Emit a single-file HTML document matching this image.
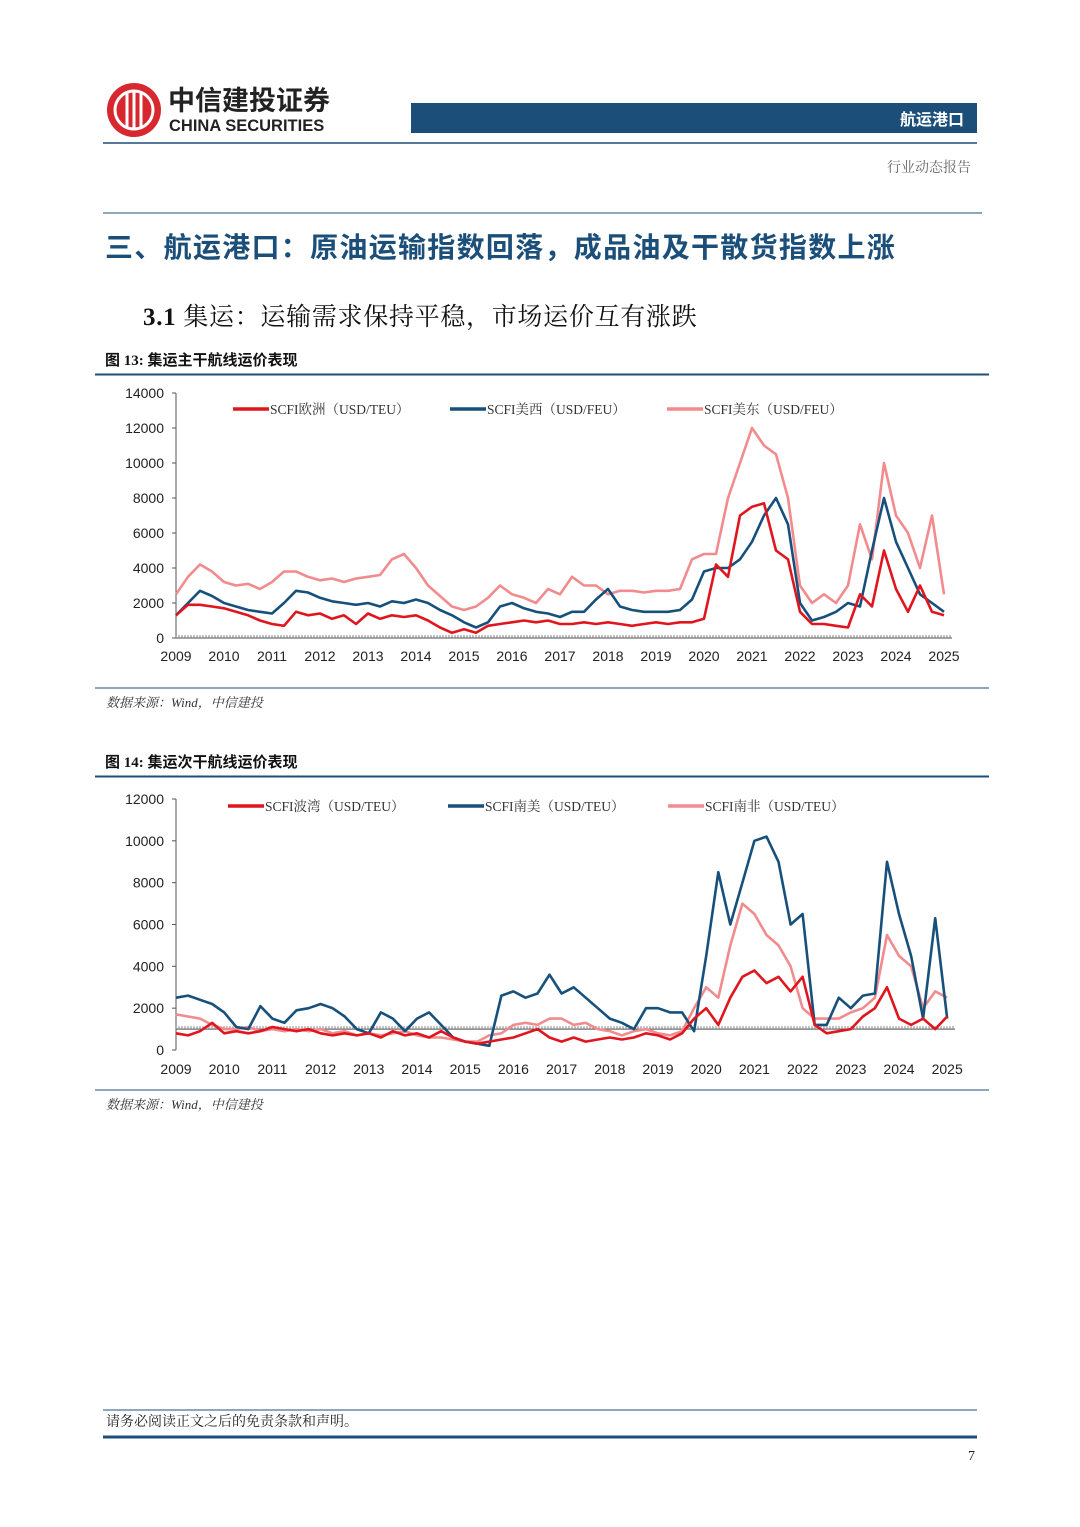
<!DOCTYPE html>
<html><head><meta charset="utf-8">
<style>
html,body{margin:0;padding:0;background:#fff;}
body{width:1080px;height:1527px;position:relative;overflow:hidden;font-family:"Liberation Sans","Noto Sans CJK SC",sans-serif;}
svg{position:absolute;left:0;top:0;}
</style></head>
<body>
<svg id="page" width="1080" height="1527" viewBox="0 0 1080 1527">
  <g>
    <circle cx="134" cy="110" r="27" fill="#d7282f"/>
    <g stroke="#fff" stroke-width="3" fill="none">
      <circle cx="134" cy="110" r="19"/>
      <line x1="127" y1="93" x2="127" y2="127"/><line x1="134" y1="91" x2="134" y2="129"/><line x1="141" y1="93" x2="141" y2="127"/>
    </g>
    <text x="168" y="110" font-size="27" font-weight="bold" fill="#222" font-family="'Noto Sans CJK SC',sans-serif">中信建投证券</text>
    <text x="169" y="131" font-size="16.5" font-weight="bold" fill="#222">CHINA SECURITIES</text>
  </g>
  <rect x="411" y="103" width="566" height="30" fill="#1b4f7a"/>
  <text x="964" y="125" font-size="16" font-weight="bold" fill="#fff" text-anchor="end" font-family="'Noto Sans CJK SC',sans-serif">航运港口</text>
  <line x1="103" y1="143" x2="977" y2="143" stroke="#1b4f7a" stroke-width="1.5"/>
  <text x="971" y="172" font-size="14" fill="#666" text-anchor="end" font-family="'Noto Serif CJK SC',serif">行业动态报告</text>
  <line x1="103" y1="213" x2="982" y2="213" stroke="#1b4f7a" stroke-width="1"/>
  <text x="105" y="257" font-size="28" letter-spacing="1.3" font-weight="bold" fill="#1b4f7a" font-family="'Noto Sans CJK SC',sans-serif">三、航运港口：原油运输指数回落，成品油及干散货指数上涨</text>
  <text x="143" y="325" font-size="25" letter-spacing="0.7" fill="#111" font-family="'Liberation Serif','Noto Serif CJK SC',serif"><tspan font-weight="bold">3.1 </tspan>集运：运输需求保持平稳，市场运价互有涨跌</text>

  <text x="105" y="365" font-size="15" font-weight="bold" fill="#111" font-family="'Liberation Serif','Noto Sans CJK SC',serif">图 13: 集运主干航线运价表现</text>
  <line x1="95" y1="374.5" x2="989" y2="374.5" stroke="#1b4f7a" stroke-width="2"/>
  <g id="chart1"></g>
  <line x1="95" y1="688" x2="989" y2="688" stroke="#1b4f7a" stroke-width="1"/>
  <text x="106" y="707" font-size="13" font-style="italic" fill="#333" font-family="'Liberation Serif','Noto Serif CJK SC',serif">数据来源：Wind，中信建投</text>

  <text x="105" y="767" font-size="15" font-weight="bold" fill="#111" font-family="'Liberation Serif','Noto Sans CJK SC',serif">图 14: 集运次干航线运价表现</text>
  <line x1="95" y1="776.5" x2="989" y2="776.5" stroke="#1b4f7a" stroke-width="2"/>
  <g id="chart2"></g>
  <line x1="95" y1="1090" x2="989" y2="1090" stroke="#1b4f7a" stroke-width="1"/>
  <text x="106" y="1109" font-size="13" font-style="italic" fill="#333" font-family="'Liberation Serif','Noto Serif CJK SC',serif">数据来源：Wind，中信建投</text>

  <line x1="103" y1="1410" x2="977" y2="1410" stroke="#1b4f7a" stroke-width="1"/>
  <text x="106" y="1426" font-size="14" fill="#222" font-family="'Noto Serif CJK SC',serif">请务必阅读正文之后的免责条款和声明。</text>
  <line x1="103" y1="1437" x2="977" y2="1437" stroke="#1b4f7a" stroke-width="3"/>
  <text x="975" y="1460" font-size="14" fill="#222" text-anchor="end" font-family="'Liberation Serif',serif">7</text>
</svg>
<script>
const yearLabels = ["2009","2010","2011","2012","2013","2014","2015","2016","2017","2018","2019","2020","2021","2022","2023","2024","2025"];
const ticks1 = [0,2000,4000,6000,8000,10000,12000,14000];
const ticks2 = [0,2000,4000,6000,8000,10000,12000];
const seriesNames1 = ["SCFI欧洲（USD/TEU）","SCFI美西（USD/FEU）","SCFI美东（USD/FEU）"];
const seriesNames2 = ["SCFI波湾（USD/TEU）","SCFI南美（USD/TEU）","SCFI南非（USD/TEU）"];
// quarterly readings, 2009Q1 onward
const europe = [1300,1900,1900,1800,1700,1500,1300,1000,800,700,1500,1300,1400,1100,1300,800,1400,1100,1300,1200,1300,1000,600,300,500,300,700,800,900,1000,900,1000,800,800,900,800,900,800,700,800,900,800,900,900,1100,4200,3500,7000,7500,7700,5000,4500,1500,800,800,700,600,2500,1800,5000,2800,1500,3000,1500,1300];
const usWest = [1300,2000,2700,2400,2000,1800,1600,1500,1400,2000,2700,2600,2300,2100,2000,1900,2000,1800,2100,2000,2200,2000,1600,1300,900,600,900,1800,2000,1700,1500,1400,1200,1500,1500,2200,2800,1800,1600,1500,1500,1500,1600,2200,3800,4000,4000,4500,5500,7000,8000,6500,2000,1000,1200,1500,2000,1800,5000,8000,5500,4000,2500,2000,1500];
const usEast = [2500,3500,4200,3800,3200,3000,3100,2800,3200,3800,3800,3500,3300,3400,3200,3400,3500,3600,4500,4800,4000,3000,2400,1800,1600,1800,2300,3000,2500,2300,2000,2800,2500,3500,3000,3000,2500,2700,2700,2600,2700,2700,2800,4500,4800,4800,8000,10000,12000,11000,10500,8000,3000,2000,2500,2000,3000,6500,4500,10000,7000,6000,4000,7000,2500];
const gulf = [800,700,900,1300,800,900,800,900,1100,1000,900,1000,800,700,800,700,800,600,900,700,800,600,900,600,400,300,400,500,600,800,1000,600,400,600,400,500,600,500,600,800,700,500,800,1500,2000,1200,2500,3500,3800,3200,3500,2800,3500,1200,800,900,1000,1600,2000,3000,1500,1200,1500,1000,1600];
const southAmerica = [2500,2600,2400,2200,1800,1100,1000,2100,1500,1300,1900,2000,2200,2000,1600,1000,800,1800,1500,900,1500,1800,1200,600,400,300,200,2600,2800,2500,2700,3600,2700,3000,2500,2000,1500,1300,1000,2000,2000,1800,1800,900,4500,8500,6000,8000,10000,10200,9000,6000,6500,1200,1200,2500,2000,2600,2700,9000,6500,4500,1500,6300,1500];
const southAfrica = [1700,1600,1500,1200,1000,1000,1100,900,1000,900,1000,900,1000,800,900,700,800,700,800,900,700,600,600,500,400,400,700,800,1200,1300,1200,1500,1500,1200,1300,1000,900,700,900,1000,800,700,900,2000,3000,2500,5000,7000,6500,5500,5000,4000,2000,1500,1500,1500,1800,2000,2500,5500,4500,4000,2000,2800,2500];

const NS = "http://www.w3.org/2000/svg";
function mk(parent, tag, attrs){ const e=document.createElementNS(NS,tag); for(const k in attrs) e.setAttribute(k,attrs[k]); parent.appendChild(e); return e; }

function drawChart(gid, cfg){
  const g = document.getElementById(gid);
  const xAt = i => cfg.x0 + i*cfg.step;
  const yAt = v => cfg.y0 - (v/cfg.ymax)*(cfg.y0-cfg.yTop);
  const ax = mk(g,'line',{x1:cfg.x0,y1:cfg.yTop,x2:cfg.x0,y2:cfg.y0,stroke:'#555','stroke-width':1});
  
  
  cfg.ticks.forEach(t=>{
    const tk = mk(g,'line',{x1:cfg.x0-4,y1:yAt(t),x2:cfg.x0,y2:yAt(t),stroke:'#555','stroke-width':1});
    
    
    const tl = mk(g,'text',{x:cfg.x0-12,y:yAt(t)+5,'font-size':14,'text-anchor':'end',fill:'#222'});
    tl.textContent = t;
    
    
  });
  const yb = yAt(cfg.base);
  const xa = mk(g,'line',{x1:cfg.x0,y1:yb,x2:cfg.xEnd,y2:yb,stroke:'#555','stroke-width':1});
  
  
  let d='';
  for(let x=cfg.x0; x<=cfg.xEnd; x+=3.0){ d+=`M${x.toFixed(1)} ${yb-3}V${yb}`; }
  const tm = mk(g,'path',{d:d,stroke:'#666','stroke-width':0.8,fill:'none'});
  
  
  yearLabels.forEach((lab,k)=>{
    const t = mk(g,'text',{x:cfg.x0+k*cfg.step*4,y:cfg.labelY,'font-size':14,'text-anchor':'middle',fill:'#222'});
    t.textContent = lab;
    
    
  });
  cfg.series.forEach((s,si)=>{
    const pts = s.data.map((v,i)=>`${xAt(i).toFixed(1)},${yAt(v).toFixed(1)}`).join(' ');
    const p = mk(g,'polyline',{points:pts,fill:'none',stroke:s.color,'stroke-width':2.6,'stroke-linejoin':'round'});
    
    
  });
  cfg.legend.forEach((s,si)=>{
    const lx = cfg.legendX[si];
    const ll = mk(g,'line',{x1:lx,y1:cfg.legendY,x2:lx+36,y2:cfg.legendY,stroke:s.color,'stroke-width':3.5});
    
    
    const lt = mk(g,'text',{x:lx+37,y:cfg.legendY+5,'font-size':13.5,fill:'#333','font-family':"'Liberation Serif','Noto Serif CJK SC',serif"});
    lt.textContent = s.name;
    
    
  });
}

drawChart('chart1',{x0:176,step:12,xEnd:952,y0:638,yTop:393,ymax:14000,base:0,ticks:ticks1,labelY:661,
  legendX:[233,450,667],legendY:409,
  series:[{data:usEast,color:'#f28b8e'},{data:usWest,color:'#17507a'},{data:europe,color:'#e0161f'}],
  legend:[{name:seriesNames1[0],color:'#e0161f'},{name:seriesNames1[1],color:'#17507a'},{name:seriesNames1[2],color:'#f28b8e'}]
});
drawChart('chart2',{x0:176,step:12.05,xEnd:955,y0:1050,yTop:799,ymax:12000,base:1000,ticks:ticks2,labelY:1074,
  legendX:[228,448,668],legendY:806,
  series:[{data:southAfrica,color:'#f28b8e'},{data:southAmerica,color:'#17507a'},{data:gulf,color:'#e0161f'}],
  legend:[{name:seriesNames2[0],color:'#e0161f'},{name:seriesNames2[1],color:'#17507a'},{name:seriesNames2[2],color:'#f28b8e'}]
});
</script>
</body></html>
